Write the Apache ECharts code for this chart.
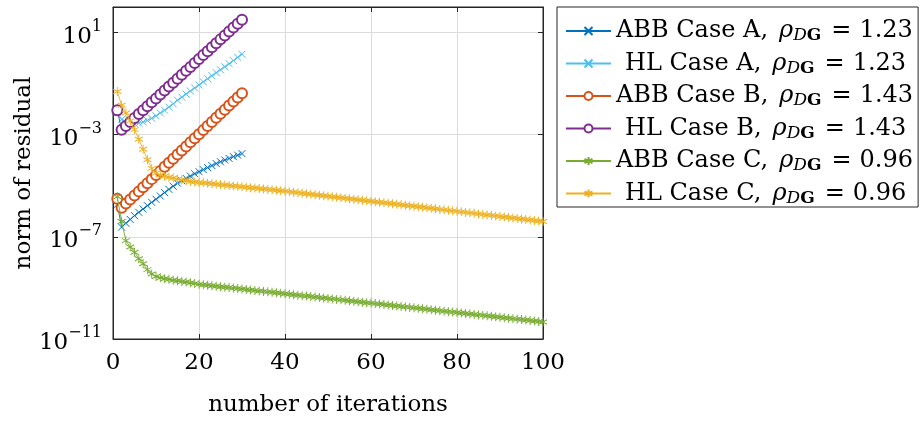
<!DOCTYPE html>
<html>
<head>
<meta charset="utf-8">
<script src="https://cdn.jsdelivr.net/npm/echarts@6/dist/echarts.min.js"></script>
<style>html,body{margin:0;padding:0;background:#fff;}#chart{width:921px;height:422px;}</style>
</head>
<body>
<div id="chart"></div>
<script>
const ITERS = [1,2,3,4,5,6,7,8,9,10,11,12,13,14,15,16,17,18,19,20,21,22,23,24,25,26,27,28,29,30,
  31,32,33,34,35,36,37,38,39,40,41,42,43,44,45,46,47,48,49,50,51,52,53,54,55,56,57,58,59,60,
  61,62,63,64,65,66,67,68,69,70,71,72,73,74,75,76,77,78,79,80,81,82,83,84,85,86,87,88,89,90,
  91,92,93,94,95,96,97,98,99,100];

const ABB_A = [1.86e-6,2.40e-7,3.39e-7,4.79e-7,6.76e-7,9.12e-7,1.23e-6,1.66e-6,2.24e-6,2.95e-6,
  3.98e-6,5.37e-6,7.24e-6,9.55e-6,1.26e-5,1.58e-5,1.95e-5,2.40e-5,2.95e-5,3.55e-5,
  4.27e-5,5.13e-5,6.17e-5,7.41e-5,8.71e-5,1.02e-4,1.17e-4,1.38e-4,1.58e-4,1.82e-4];

const HL_A = [7.2e-3,4.0e-3,3.0e-3,2.75e-3,2.69e-3,2.82e-3,3.16e-3,3.63e-3,4.37e-3,5.5e-3,
  7.08e-3,9.1e-3,1.20e-2,1.62e-2,2.24e-2,2.95e-2,3.89e-2,5.13e-2,6.76e-2,8.91e-2,
  0.117,0.155,0.204,0.269,0.347,0.457,0.603,0.794,1.07,1.41];

const ABB_B = [3.09e-6,1.38e-6,2.0e-6,2.88e-6,4.17e-6,6.03e-6,8.71e-6,1.26e-5,1.82e-5,2.63e-5,
  3.80e-5,5.50e-5,7.94e-5,1.15e-4,1.66e-4,2.40e-4,3.47e-4,5.01e-4,7.24e-4,1.05e-3,
  1.51e-3,2.19e-3,3.16e-3,4.57e-3,6.61e-3,9.55e-3,1.38e-2,2.00e-2,2.88e-2,4.17e-2];

const HL_B = [9.1e-3,1.55e-3,2.21e-3,3.15e-3,4.49e-3,6.40e-3,9.12e-3,1.30e-2,1.85e-2,2.64e-2,
  3.77e-2,5.37e-2,7.66e-2,0.109,0.156,0.222,0.316,0.451,0.643,0.916,
  1.31,1.86,2.65,3.78,5.40,7.69,11.0,15.6,22.3,31.8];

const ABB_C = [3.7e-6,4.0e-7,7.1e-8,4.0e-8,2.5e-8,1.4e-8,8.9e-9,5.2e-9,3.5e-9,2.8e-9,
  2.5e-9,2.3e-9,2.2e-9,2.0e-9,1.9e-9,1.8e-9,1.7e-9,1.6e-9,1.5e-9,1.38e-9,
  1.32e-9,1.27e-9,1.22e-9,1.16e-9,1.12e-9,1.07e-9,1.03e-9,9.84e-10,9.42e-10,9.04e-10,
  8.67e-10,8.30e-10,7.96e-10,7.62e-10,7.31e-10,7.01e-10,6.71e-10,6.44e-10,6.17e-10,5.92e-10,
  5.68e-10,5.43e-10,5.21e-10,4.99e-10,4.79e-10,4.59e-10,4.40e-10,4.22e-10,4.04e-10,3.87e-10,
  3.72e-10,3.56e-10,3.41e-10,3.27e-10,3.13e-10,3.01e-10,2.88e-10,2.76e-10,2.64e-10,2.54e-10,
  2.43e-10,2.33e-10,2.23e-10,2.14e-10,2.05e-10,1.97e-10,1.88e-10,1.81e-10,1.73e-10,1.66e-10,
  1.59e-10,1.52e-10,1.46e-10,1.40e-10,1.34e-10,1.29e-10,1.23e-10,1.18e-10,1.13e-10,1.09e-10,
  1.04e-10,9.98e-11,9.57e-11,9.17e-11,8.79e-11,8.43e-11,8.07e-11,7.74e-11,7.41e-11,7.11e-11,
  6.82e-11,6.53e-11,6.27e-11,6.00e-11,5.75e-11,5.52e-11,5.28e-11,5.07e-11,4.86e-11,4.66e-11];

const HL_C = [4.9e-2,1.41e-2,7.1e-3,3.47e-3,1.58e-3,6.6e-4,2.69e-4,1.05e-4,4.8e-5,3.16e-5,
  2.63e-5,2.34e-5,2.14e-5,2.0e-5,1.82e-5,1.70e-5,1.58e-5,1.48e-5,1.41e-5,1.35e-5,
  1.30e-5,1.25e-5,1.20e-5,1.15e-5,1.11e-5,1.07e-5,1.03e-5,9.86e-6,9.48e-6,9.12e-6,
  8.77e-6,8.43e-6,8.11e-6,7.80e-6,7.50e-6,7.21e-6,6.93e-6,6.67e-6,6.41e-6,6.17e-6,
  5.89e-6,5.62e-6,5.38e-6,5.14e-6,4.91e-6,4.69e-6,4.48e-6,4.29e-6,4.09e-6,3.91e-6,
  3.73e-6,3.56e-6,3.41e-6,3.26e-6,3.11e-6,2.97e-6,2.84e-6,2.72e-6,2.59e-6,2.48e-6,
  2.37e-6,2.26e-6,2.16e-6,2.07e-6,1.97e-6,1.88e-6,1.80e-6,1.72e-6,1.64e-6,1.57e-6,
  1.50e-6,1.43e-6,1.37e-6,1.31e-6,1.25e-6,1.19e-6,1.14e-6,1.09e-6,1.04e-6,9.95e-7,
  9.51e-7,9.08e-7,8.69e-7,8.30e-7,7.93e-7,7.57e-7,7.23e-7,6.92e-7,6.61e-7,6.31e-7,
  6.03e-7,5.75e-7,5.51e-7,5.26e-7,5.02e-7,4.80e-7,4.58e-7,4.39e-7,4.19e-7,4.00e-7];

const SERIES_NAMES = ['ABB Case A','HL Case A','ABB Case B','HL Case B','ABB Case C','HL Case C'];
const RHO_VALUES = ['1.23','1.23','1.43','1.43','0.96','0.96'];
const Y_TICKS = [1e-11,1e-7,1e-3,1e1];

const COLORS = ['#0072BD','#4DBEEE','#D95319','#7E2F8E','#77AC30','#EDB120'];
const FONT = 'DejaVu Serif';
const FS = 23;
const LFS = 24;

const CROSS = 'path://M0,0L10,10M10,0L0,10';
const STAR = 'path://M5,0L5,10M0.67,2.5L9.33,7.5M0.67,7.5L9.33,2.5';

function mkSeries(idx, vals, symbol, size) {
  const isCircle = symbol === 'circle';
  return {
    name: SERIES_NAMES[idx],
    type: 'line',
    data: vals.map((v, i) => [ITERS[i], v]),
    symbol: isCircle ? 'emptyCircle' : symbol,
    symbolSize: size,
    showSymbol: true,
    showAllSymbol: true,
    animation: false,
    lineStyle: { color: COLORS[idx], width: 0.9 },
    itemStyle: isCircle
      ? { color: COLORS[idx], borderColor: COLORS[idx], borderWidth: 0.9 }
      : { color: 'rgba(0,0,0,0)', borderColor: COLORS[idx], borderWidth: 1 },
    emphasis: { disabled: true },
    z: 2 + idx
  };
}

function supLabel(v) {
  const e = Math.round(Math.log10(v));
  const s = e < 0 ? '\u2212' + (-e) : String(e);
  return '{b|10}{s|' + s + '}';
}

const chart = echarts.init(document.getElementById('chart'), null, { renderer: 'canvas' });
const option = {
  backgroundColor: '#fff',
  animation: false,
  grid: { left: 113, top: 7, width: 430, height: 339, show: true, borderColor: '#262626', borderWidth: 1, backgroundColor: '#fff' },
  legend: {
    left: 557, top: 7,
    orient: 'vertical',
    itemWidth: 45, itemHeight: 10, itemGap: 7,
    padding: [12, 5, 0, 8],
    borderColor: '#262626', borderWidth: 1, backgroundColor: '#fff',
    selectedMode: false,
    data: SERIES_NAMES,
    formatter: function (name) {
      const i = SERIES_NAMES.indexOf(name);
      const pad = name.indexOf('HL') === 0 ? '{sp|}' : '';
      return pad + '{t|' + name + ',}{w1|}{r|\u03c1}{d|D}{g|G}{w2|}{t|=}{w3|}{t|' + RHO_VALUES[i] + '}';
    },
    textStyle: {
      color: '#000', fontFamily: FONT, fontSize: LFS,
      rich: {
        t: { fontFamily: FONT, fontSize: LFS, color: '#000' },
        r: { fontFamily: FONT, fontSize: LFS, fontStyle: 'italic', color: '#000' },
        d: { fontFamily: FONT, fontSize: 17, fontStyle: 'italic', color: '#000', padding: [10, 0, 0, 0] },
        g: { fontFamily: FONT, fontSize: 17, fontWeight: 'bold', color: '#000', padding: [10, 0, 0, 0] },
        sp: { width: 9 },
        w1: { width: 11 },
        w2: { width: 10 },
        w3: { width: 8 }
      }
    }
  },
  xAxis: [{
    type: 'value', min: 0, max: 100, interval: 20,
    name: 'number of iterations', nameLocation: 'middle', nameGap: 55,
    nameTextStyle: { fontFamily: FONT, fontSize: FS, color: '#000' },
    axisLine: { show: true, onZero: false, lineStyle: { color: '#262626' } },
    axisTick: { show: true, inside: true, length: 5, lineStyle: { color: '#262626' } },
    axisLabel: { fontFamily: FONT, fontSize: FS, color: '#000', margin: 13 },
    splitLine: { show: true, lineStyle: { color: '#dcdcdc', width: 1 } }
  }, {
    type: 'value', min: 0, max: 100, interval: 20, position: 'top',
    axisLine: { show: true, onZero: false, lineStyle: { color: '#262626' } },
    axisTick: { show: true, inside: true, length: 5, lineStyle: { color: '#262626' } },
    axisLabel: { show: false }, splitLine: { show: false }
  }],
  yAxis: [{
    type: 'log', logBase: 10, min: 1e-11, max: 100, interval: 4,
    name: 'norm of residual', nameLocation: 'middle', nameGap: 73,
    nameTextStyle: { fontFamily: FONT, fontSize: FS, color: '#000' },
    axisLine: { show: true, onZero: false, lineStyle: { color: '#262626' } },
    axisTick: { show: true, inside: true, length: 5, lineStyle: { color: '#262626' }, customValues: Y_TICKS },
    axisLabel: {
      customValues: Y_TICKS, margin: 11,
      formatter: supLabel,
      rich: {
        b: { fontFamily: FONT, fontSize: FS, color: '#000', padding: [8, 0, 0, 0] },
        s: { fontFamily: FONT, fontSize: 16, color: '#000', padding: [0, 0, 12, 0] }
      }
    },
    splitLine: { show: true, lineStyle: { color: '#dcdcdc', width: 1 } },
    minorTick: { show: false }
  }, {
    type: 'log', logBase: 10, min: 1e-11, max: 100, interval: 4, position: 'right',
    axisLine: { show: true, onZero: false, lineStyle: { color: '#262626' } },
    axisTick: { show: true, inside: true, length: 5, lineStyle: { color: '#262626' }, customValues: Y_TICKS },
    axisLabel: { show: false }, splitLine: { show: false }
  }],
  series: [
    mkSeries(0, ABB_A, CROSS, 7),
    mkSeries(1, HL_A, CROSS, 7),
    mkSeries(2, ABB_B, 'circle', 10),
    mkSeries(3, HL_B, 'circle', 10),
    mkSeries(4, ABB_C, STAR, [8, 9]),
    mkSeries(5, HL_C, STAR, [8, 9])
  ]
};
chart.setOption(option);
</script>
</body>
</html>
